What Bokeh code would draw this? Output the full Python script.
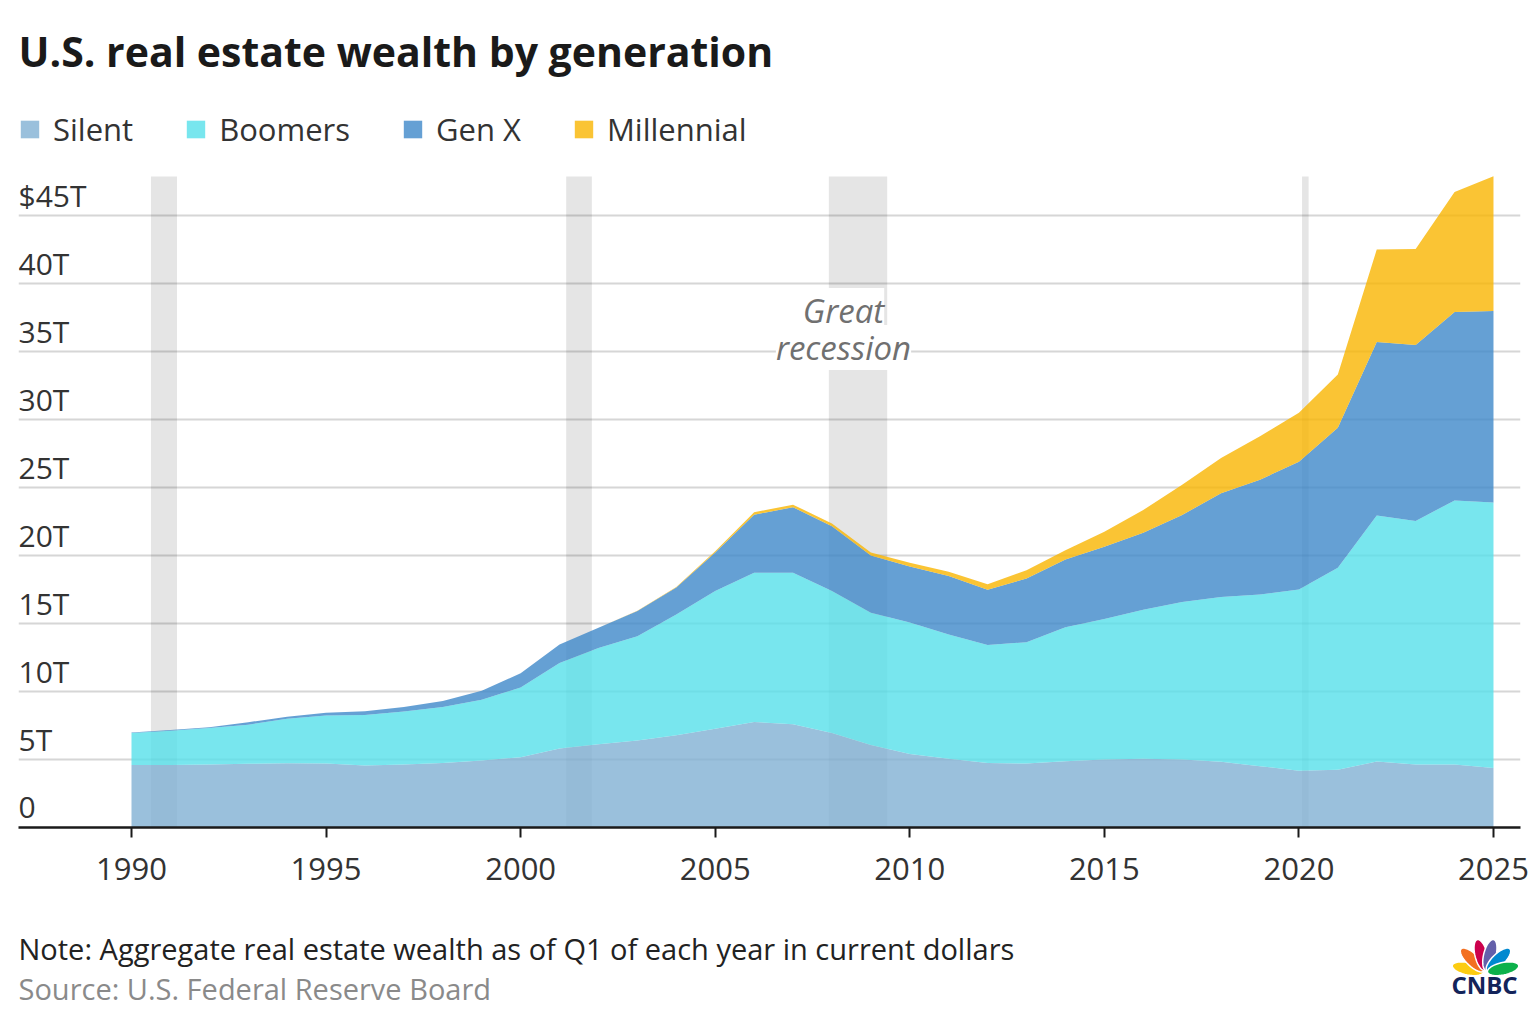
import numpy as np
from bokeh.plotting import figure
from bokeh.layouts import column
from bokeh.models import (ColumnDataSource, Range1d, FixedTicker, Legend,
                          LegendItem, Label)
from bokeh.core.properties import value
from bokeh.embed import file_html
from bokeh.resources import INLINE

# ---------------- data (trillions of dollars, Q1 of each year) ----------------
years = list(range(1990, 2026))
silent = [4.60, 4.60, 4.63, 4.68, 4.73, 4.70, 4.55, 4.63, 4.75, 4.93,
          5.17, 5.81, 6.13, 6.40, 6.78, 7.27, 7.76, 7.60, 6.95, 6.06,
          5.40, 5.05, 4.75, 4.70, 4.88, 5.00, 5.05, 5.00, 4.83, 4.51,
          4.17, 4.24, 4.85, 4.63, 4.63, 4.38]
boomers = [2.34, 2.51, 2.68, 2.88, 3.26, 3.53, 3.73, 3.90, 4.11, 4.47,
           5.13, 6.28, 7.07, 7.66, 8.89, 10.12, 10.98, 11.14, 10.44, 9.73,
           9.68, 9.15, 8.67, 8.92, 9.85, 10.34, 10.96, 11.58, 12.12, 12.63,
           13.33, 14.86, 18.10, 17.91, 19.42, 19.52]
gen_x = [0.05, 0.05, 0.07, 0.18, 0.16, 0.20, 0.27, 0.33, 0.44, 0.65,
         1.04, 1.36, 1.48, 1.85, 1.97, 2.83, 4.26, 4.81, 4.76, 4.21,
         4.12, 4.30, 4.07, 4.68, 4.97, 5.30, 5.66, 6.40, 7.63, 8.43,
         9.40, 10.30, 12.75, 12.94, 13.85, 14.07]
millennial = [0.0, 0.0, 0.0, 0.0, 0.0, 0.0, 0.0, 0.0, 0.0, 0.0,
              0.0, 0.0, 0.0, 0.02, 0.05, 0.10, 0.18, 0.19, 0.21, 0.22,
              0.26, 0.30, 0.39, 0.62, 0.69, 1.11, 1.68, 2.22, 2.59, 3.20,
              3.60, 3.90, 6.80, 7.06, 8.83, 9.92]
series_names = ["Silent", "Boomers", "Gen X", "Millennial"]
series_colors = ["#81B0D3", "#56E0EA", "#3F88C9", "#F9B501"]

recession_start = [1990.50, 2001.17, 2007.92, 2020.08]
recession_end = [1991.17, 2001.83, 2009.42, 2020.25]

y_ticks = [0, 5, 10, 15, 20, 25, 30, 35, 40, 45]
y_tick_labels = ["0", "5T", "10T", "15T", "20T", "25T", "30T", "35T", "40T", "$45T"]
x_ticks = [1990, 1995, 2000, 2005, 2010, 2015, 2020, 2025]

title_text = "U.S. real estate wealth by generation"
note_text = "Note: Aggregate real estate wealth as of Q1 of each year in current dollars"
source_text = "Source: U.S. Federal Reserve Board"

# ---------------- layout constants ----------------
FONT = "Open Sans"
W = 1537
MAIN_H = 900
FOOT_H = 1027 - MAIN_H
PX_PER_YEAR = 38.914
PX_PER_T = 13.6
X0 = 1990 - (131 - 18) / PX_PER_YEAR
X1 = 1990 + (1520 - 131) / PX_PER_YEAR
Y_TOP = 827 / PX_PER_T
Y_BAND = (827 - 176) / PX_PER_T   # top of recession bands


def dx(px):  # page x pixel -> data x
    return 1990 + (px - 131) / PX_PER_YEAR


def dy(py):  # page y pixel -> data y
    return (827 - py) / PX_PER_T


# ---------------- main chart ----------------
p = figure(width=W, height=MAIN_H, x_range=Range1d(X0, X1), y_range=Range1d(0, Y_TOP),
           output_backend="svg", toolbar_location=None, y_axis_location=None,
           min_border_left=18, min_border_right=17, min_border_top=0,
           min_border_bottom=MAIN_H - 827)
p.outline_line_color = None
p.background_fill_color = "white"
p.border_fill_color = "white"
p.xgrid.visible = False
p.ygrid.ticker = FixedTicker(ticks=y_ticks[1:])
p.ygrid.grid_line_color = "#d6d6d6"
p.ygrid.grid_line_width = 2

# recession bands
p.quad(left=recession_start, right=recession_end, bottom=0, top=Y_BAND,
       fill_color="black", fill_alpha=0.1, line_color=None)

# stacked areas
src = ColumnDataSource(dict(year=years, Silent=silent, Boomers=boomers,
                            **{"Gen X": gen_x}, Millennial=millennial))
rends = p.varea_stack(stackers=series_names, x="year", fill_color=series_colors,
                      fill_alpha=0.8, source=src)

# x axis
ax = p.xaxis[0]
ax.ticker = FixedTicker(ticks=x_ticks)
ax.axis_line_color = "#1a1a1a"
ax.axis_line_width = 2.5
ax.major_tick_line_color = "#1a1a1a"
ax.major_tick_line_width = 2
ax.major_tick_in = 0
ax.major_tick_out = 10
ax.minor_tick_line_color = None
ax.major_label_standoff = 20
ax.major_label_text_font = FONT
ax.major_label_text_font_size = "31px"
ax.major_label_text_color = "#333333"

# y tick labels sitting above the gridlines
p.text(x=[X0] * len(y_ticks), y=y_ticks, text=y_tick_labels,
       text_font=value(FONT), text_font_size="30px", text_color="#333333",
       text_align="left", text_baseline="middle", y_offset=-20)

# legend
legend = Legend(items=[LegendItem(label=n, renderers=[r]) for n, r in zip(series_names, rends)],
                orientation="horizontal", location=(0, 827 - 150),
                glyph_width=23, glyph_height=22, label_standoff=12, spacing=51,
                padding=0, margin=0, border_line_color=None,
                background_fill_alpha=0, label_text_font=FONT,
                label_text_font_size="31px", label_text_color="#333333")
p.add_layout(legend)

# title
p.add_layout(Label(x=X0, y=dy(50), text=title_text, text_font=FONT,
                   text_font_size="41px", text_font_style="bold",
                   text_color="#1a1a1a", text_baseline="middle"))

# Great recession annotation
for txt, yy in (("Great", 310), ("recession", 347)):
    p.add_layout(Label(x=dx(843), y=dy(yy), text=txt, text_font=FONT,
                       text_font_size="33px", text_font_style="italic",
                       text_color="#707070", text_align="center",
                       text_baseline="middle", background_fill_color="white",
                       background_fill_alpha=1.0, padding=0))

# ---------------- footer (page pixel coordinates) ----------------
f = figure(width=W, height=FOOT_H, x_range=Range1d(18, 1520), y_range=Range1d(1027, MAIN_H),
           output_backend="svg", toolbar_location=None, x_axis_location=None,
           y_axis_location=None, min_border=0, min_border_left=18,
           min_border_right=17, min_border_top=0, min_border_bottom=0)
f.outline_line_color = None
f.xgrid.visible = False
f.ygrid.visible = False
f.background_fill_color = "white"
f.border_fill_color = "white"

f.add_layout(Label(x=18, y=948, text=note_text, text_font=FONT,
                   text_font_size="29px", text_color="#222222",
                   text_baseline="middle"))
f.add_layout(Label(x=18, y=988, text=source_text, text_font=FONT,
                   text_font_size="29px", text_color="#8a8a8a",
                   text_baseline="middle"))

# CNBC logo
base_x, base_y = 1485, 972
feather_colors = ["#FCCC12", "#F37021", "#CC004C", "#6460AA", "#0089D0", "#0DB14B"]
feather_angles = [168, 136, 104, 76, 44, 12]
t = np.linspace(0, 2 * np.pi, 40)
fx, fy = [], []
for ang in feather_angles:
    th = np.deg2rad(ang)
    cx, cy = 18 * np.cos(th), 18 * np.sin(th)
    lx, ly = 16 * np.cos(t), 6.2 * np.sin(t)
    rx = cx + lx * np.cos(th) - ly * np.sin(th)
    ry = cy + lx * np.sin(th) + ly * np.cos(th)
    fx.append(list(base_x + rx))
    fy.append(list(base_y - ry))
f.patches(xs=fx, ys=fy, fill_color=feather_colors, line_color="white", line_width=1.5)
f.add_layout(Label(x=1484, y=984, text="CNBC", text_font=FONT,
                   text_font_size="24px", text_font_style="bold",
                   text_color="#13245A", text_align="center",
                   text_baseline="middle"))

layout = column(p, f, spacing=0)
open("out.html", "w").write(file_html(layout, INLINE))
